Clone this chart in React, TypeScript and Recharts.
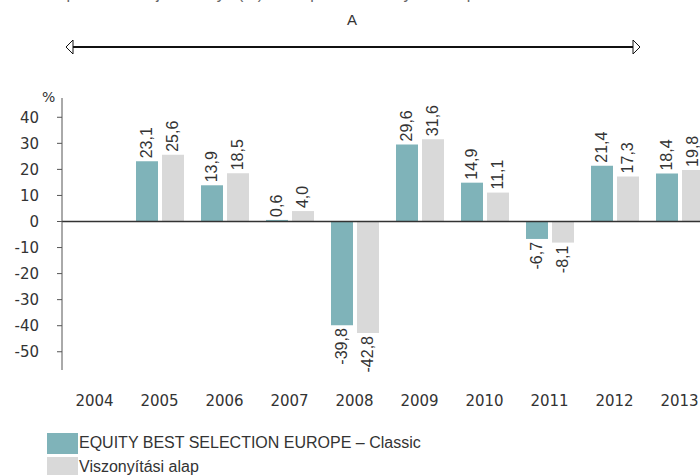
import { BarChart, Bar, XAxis, YAxis, ReferenceLine, LabelList } from "recharts";

const years = ["2004", "2005", "2006", "2007", "2008", "2009", "2010", "2011", "2012", "2013"];
const fundReturns = [null, 23.1, 13.9, 0.6, -39.8, 29.6, 14.9, -6.7, 21.4, 18.4];
const benchmarkReturns = [null, 25.6, 18.5, 4.0, -42.8, 31.6, 11.1, -8.1, 17.3, 19.8];
const yTicks = [-50, -40, -30, -20, -10, 0, 10, 20, 30, 40];
const fundName = "EQUITY BEST SELECTION EUROPE – Classic";
const benchName = "Viszonyítási alap";

const TEAL = "#7fb3b9";
const GREY = "#d9d9d9";
const INK = "#333333";

const data = years.map((year, i) => ({ year, fund: fundReturns[i], bench: benchmarkReturns[i] }));
const fmt = (v: number) => v.toFixed(1).replace(".", ",");

// rotated value labels: above positive bars, below negative ones
function ValueLabel(props: any) {
  const { value } = props;
  if (value == null) return null;
  const x = Number(props.x), y = Number(props.y), w = Number(props.width), h = Number(props.height);
  const cx = x + w / 2;
  const pos = Number(value) >= 0;
  const ty = pos ? Math.min(y, y + h) - 3 : Math.max(y, y + h) + 3;
  return (
    <text
      x={cx}
      y={ty}
      transform={`rotate(-90 ${cx} ${ty})`}
      textAnchor={pos ? "start" : "end"}
      dominantBaseline="central"
      fontFamily="'Liberation Sans', Arial, sans-serif"
      fontSize={16}
      fill={INK}
    >
      {fmt(Number(value))}
    </text>
  );
}

export default function App() {
  const tickFont = { fontFamily: "'DejaVu Sans', sans-serif", fontSize: 15, fill: INK };
  return (
    <div style={{ position: "absolute", left: 0, top: 0, width: 700, height: 475, overflow: "hidden", background: "#fff" }}>
      <svg width={700} height={70} style={{ position: "absolute", left: 0, top: 0 }}>
        {/* heading line sits mostly above the visible area, as in the source */}
        <text x={22} y={-1} fontFamily="'Liberation Sans', sans-serif" fontSize={16} fill="#666">
          Az alap múltbeli teljesítménye (%) az alap és a viszonyítási alap évente
        </text>
        <text x={352} y={25} textAnchor="middle" fontFamily="'Liberation Sans', sans-serif" fontSize={15} fill={INK}>
          A
        </text>
        <line x1={73} y1={47} x2={633} y2={47} stroke="#111" strokeWidth={1.8} />
        <polygon points="66,47 73,40 73,54" fill="#fff" stroke="#111" strokeWidth={1} />
        <polygon points="640,47 633,40 633,54" fill="#fff" stroke="#111" strokeWidth={1} />
      </svg>
      <div style={{ position: "absolute", left: 42, top: 89, font: "14px 'DejaVu Sans', sans-serif", color: INK }}>%</div>
      <div style={{ position: "absolute", left: 0, top: 0 }}>
        <BarChart width={740} height={475} data={data} margin={{ top: 98, right: 28, left: 12, bottom: 65 }} barGap={4} barSize={22}>
          <XAxis dataKey="year" axisLine={false} tickLine={false} tickSize={0} tickMargin={25} interval={0} height={40} tick={tickFont} />
          <YAxis
            domain={[-57, 47.4]}
            ticks={yTicks}
            width={50}
            allowDataOverflow
            stroke="#555"
            tickSize={5}
            tickMargin={18}
            tick={tickFont}
          />
          <Bar dataKey="fund" fill={TEAL} isAnimationActive={false}>
            <LabelList dataKey="fund" content={ValueLabel} />
          </Bar>
          <Bar dataKey="bench" fill={GREY} isAnimationActive={false}>
            <LabelList dataKey="bench" content={ValueLabel} />
          </Bar>
          <ReferenceLine y={0} stroke={INK} strokeWidth={1.5} />
        </BarChart>
      </div>
      <div style={{ position: "absolute", left: 47, top: 431, font: "16px 'Liberation Sans', sans-serif", color: INK }}>
        <div style={{ display: "flex", alignItems: "center", height: 24 }}>
          <span style={{ display: "inline-block", width: 31, height: 21, background: TEAL }} />
          <span style={{ marginLeft: 1 }}>{fundName}</span>
        </div>
        <div style={{ display: "flex", alignItems: "center", height: 24 }}>
          <span style={{ display: "inline-block", width: 31, height: 21, background: GREY }} />
          <span style={{ marginLeft: 1 }}>{benchName}</span>
        </div>
      </div>
    </div>
  );
}
